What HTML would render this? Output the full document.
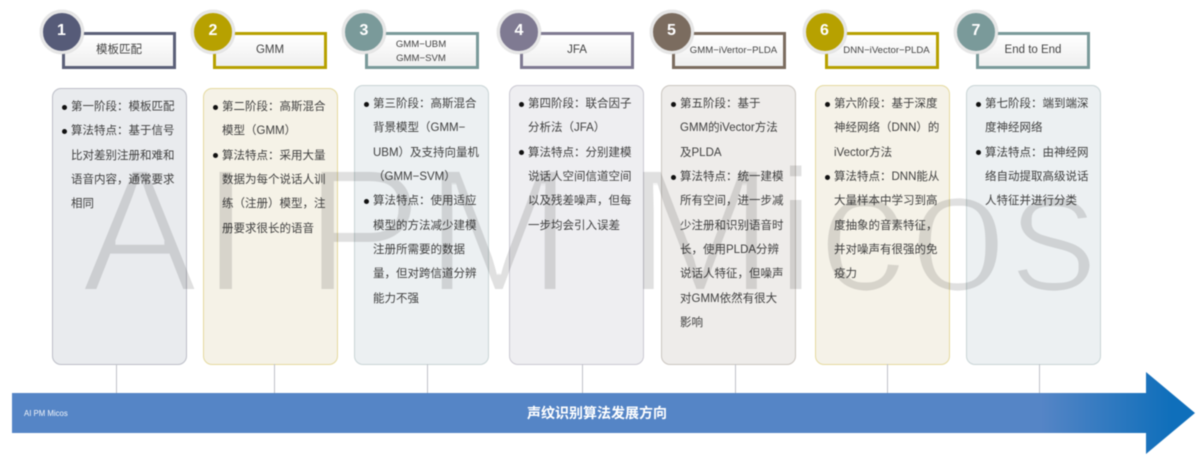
<!DOCTYPE html>
<html><head><meta charset="utf-8">
<style>
html,body{margin:0;padding:0;background:#fff}
#p{position:relative;width:1200px;height:458px;overflow:hidden;background:#fff;font-family:"Liberation Sans","Noto Sans CJK SC",sans-serif;filter:blur(.4px)}
.a{position:absolute}
.card{position:absolute;box-sizing:border-box;border:1px solid;border-radius:9px;width:135px}
.conn{position:absolute;top:364px;height:29px;width:1px;background:#bfc2c8}
.lab{position:absolute;top:32px;height:37px;width:114px;box-sizing:border-box;border:3px solid;background:linear-gradient(#fff,#efefef);text-align:center;color:#444;font-size:11.5px;line-height:31px;white-space:nowrap}
.lab.s{font-size:9.6px}
.lab.d{line-height:13.5px;padding-top:3px;padding-right:2px}
.lab.o{padding-left:9px}
.c{position:absolute;top:10px;width:38px;height:38px;border-radius:50%;border:3.5px solid #e6e6e6;box-shadow:0 0 1px #bbb;color:#fff;font-weight:bold;font-size:16px;line-height:36px;text-align:center}
.t{position:absolute;font-size:11.5px;line-height:24.35px;color:#404040;white-space:nowrap}
.t i{position:absolute;left:-9px;width:5px;height:5px;border-radius:50%;background:#111;margin-top:9.5px}
</style></head><body>
<div id="p">
<div class="card" style="left:52px;top:88px;height:277px;background:#e9ebee;border-color:#bcbec7"></div>
<div class="card" style="left:203px;top:88px;height:277px;background:#f5f2e7;border-color:#e5da9f"></div>
<div class="card" style="left:354px;top:85px;height:280px;background:#ecf0f2;border-color:#c9d5d6"></div>
<div class="card" style="left:509px;top:85px;height:280px;background:#eeeef1;border-color:#cbc9d3"></div>
<div class="card" style="left:661px;top:85px;height:280px;background:#eeecea;border-color:#cbc6c0"></div>
<div class="card" style="left:815px;top:85px;height:280px;background:#f5f2e8;border-color:#e5da9f"></div>
<div class="card" style="left:966px;top:85px;height:280px;background:#ecf0f2;border-color:#c9d5d6"></div>

<div class="conn" style="left:116px"></div>
<div class="conn" style="left:274px"></div>
<div class="conn" style="left:427px"></div>
<div class="conn" style="left:582px"></div>
<div class="conn" style="left:735px"></div>
<div class="conn" style="left:887px"></div>
<div class="conn" style="left:1039px"></div>

<div class="lab" style="left:62px;border-color:#5b6078">模板匹配</div>
<div class="lab" style="left:213px;border-color:#b7a100">GMM</div>
<div class="lab s d" style="left:365px;border-color:#7a9a9a">GMM−UBM<br>GMM−SVM</div>
<div class="lab" style="left:520px;border-color:#7f7a92">JFA</div>
<div class="lab s o" style="left:672px;border-color:#7b6c5f">GMM−iVertor−PLDA</div>
<div class="lab s o" style="left:825px;border-color:#b7a100">DNN−iVector−PLDA</div>
<div class="lab" style="left:976px;border-color:#7a9a9a">End to End</div>

<div class="c" style="left:39.5px;background:#565b78">1</div>
<div class="c" style="left:191px;background:#b7a100">2</div>
<div class="c" style="left:342px;background:#7a9a9a">3</div>
<div class="c" style="left:497px;background:#7f7a92">4</div>
<div class="c" style="left:649.5px;background:#7b6c5f">5</div>
<div class="c" style="left:802.5px;background:#b7a100">6</div>
<div class="c" style="left:954px;background:#7a9a9a">7</div>

<div class="t" style="left:71px;top:95px"><i></i>第一阶段：模板匹配<br><i></i>算法特点：基于信号<br>比对差别注册和难和<br>语音内容，通常要求<br>相同</div>
<div class="t" style="left:222px;top:95px"><i></i>第二阶段：高斯混合<br>模型（GMM）<br><i></i>算法特点：采用大量<br>数据为每个说话人训<br>练（注册）模型，注<br>册要求很长的语音</div>
<div class="t" style="left:373px;top:92px"><i></i>第三阶段：高斯混合<br>背景模型（GMM−<br>UBM）及支持向量机<br>（GMM−SVM）<br><i></i>算法特点：使用适应<br>模型的方法减少建模<br>注册所需要的数据<br>量，但对跨信道分辨<br>能力不强</div>
<div class="t" style="left:528px;top:92px"><i></i>第四阶段：联合因子<br>分析法（JFA）<br><i></i>算法特点：分别建模<br>说话人空间信道空间<br>以及残差噪声，但每<br>一步均会引入误差</div>
<div class="t" style="left:680px;top:92px"><i></i>第五阶段：基于<br>GMM的iVector方法<br>及PLDA<br><i></i>算法特点：统一建模<br>所有空间，进一步减<br>少注册和识别语音时<br>长，使用PLDA分辨<br>说话人特征，但噪声<br>对GMM依然有很大<br>影响</div>
<div class="t" style="left:834px;top:92px"><i></i>第六阶段：基于深度<br>神经网络（DNN）的<br>iVector方法<br><i></i>算法特点：DNN能从<br>大量样本中学习到高<br>度抽象的音素特征，<br>并对噪声有很强的免<br>疫力</div>
<div class="t" style="left:985px;top:92px"><i></i>第七阶段：端到端深<br>度神经网络<br><i></i>算法特点：由神经网<br>络自动提取高级说话<br>人特征并进行分类</div>

<svg class="a" style="left:0;top:0" width="1200" height="458" viewBox="0 0 1200 458">
<defs>
<linearGradient id="g" gradientUnits="userSpaceOnUse" x1="12" y1="0" x2="1195" y2="0">
<stop offset="0" stop-color="#5585c6"/><stop offset=".87" stop-color="#5585c6"/><stop offset=".98" stop-color="#0f6fbb"/><stop offset="1" stop-color="#0f6fbb"/>
</linearGradient>
<filter id="thin" x="-5%" y="-10%" width="110%" height="120%" color-interpolation-filters="sRGB"><feMorphology operator="erode" radius="2.2"/></filter>
</defs>
<polygon points="12,393 1146,393 1146,372 1195,413 1146,454 1146,433 12,433" fill="url(#g)"/>
<text x="24" y="416" font-size="7.8" fill="#f2f5fa" font-family="Liberation Sans, sans-serif">AI PM Micos</text>
<text x="597" y="418" text-anchor="middle" font-size="14" font-weight="bold" fill="#fff" font-family="Liberation Sans, Noto Sans CJK SC, sans-serif">声纹识别算法发展方向</text>
<text x="81" y="291" font-size="176" fill="#000" fill-opacity=".12" filter="url(#thin)" textLength="1017" lengthAdjust="spacing" font-family="Liberation Sans, sans-serif">AI PM Micos</text>
</svg>
</div>
</body></html>
